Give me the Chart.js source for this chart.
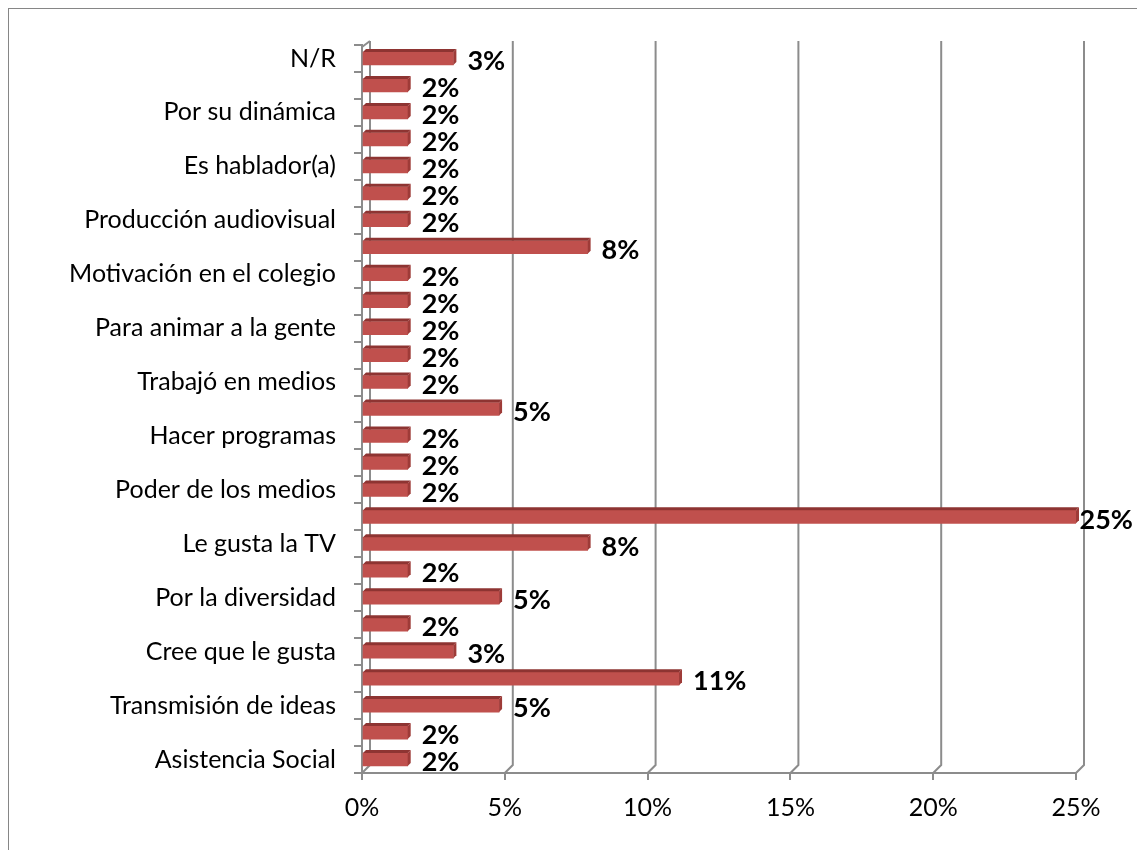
<!DOCTYPE html>
<html>
<head>
<meta charset="utf-8">
<script src="https://cdn.jsdelivr.net/npm/chart.js@4.4.1/dist/chart.umd.min.js"></script>
<style>
  html, body { margin: 0; padding: 0; background: #fff; }
  #wrap { width: 1137px; height: 850px; position: relative; }
</style>
</head>
<body>
<div id="wrap"><canvas id="chart" width="1137" height="850"></canvas></div>
<script>
// ==============================
// DATA (top to bottom)
// ==============================
const categories = [
  'N/R', '', 'Por su dinámica', '', 'Es hablador(a)', '',
  'Producción audiovisual', '', 'Motivación en el colegio', '',
  'Para animar a la gente', '', 'Trabajó en medios', '',
  'Hacer programas', '', 'Poder de los medios', '',
  'Le gusta la TV', '', 'Por la diversidad', '',
  'Cree que le gusta', '', 'Transmisión de ideas', '', 'Asistencia Social'
];
const values = [
  3.2, 1.6, 1.6, 1.6, 1.6, 1.6,
  1.6, 7.9, 1.6, 1.6,
  1.6, 1.6, 1.6, 4.8,
  1.6, 1.6, 1.6, 25,
  7.9, 1.6, 4.8, 1.6,
  3.2, 11.1, 4.8, 1.6, 1.6
];
const xTicks = [0, 5, 10, 15, 20, 25];

const FONT = 'Lato, "Open Sans", sans-serif';
const GRID = '#8c8c8c';
const DEPTH = 8;

// ==============================
// PLUGINS
// ==============================
// outer frame
const framePlugin = {
  id: 'frame',
  beforeDraw(chart) {
    const ctx = chart.ctx;
    ctx.save();
    ctx.strokeStyle = '#868686';
    ctx.lineWidth = 1;
    ctx.strokeRect(8.5, 8.5, 1300, 1000);
    ctx.restore();
  }
};

// back wall grid lines with a little 3D offset
const wallPlugin = {
  id: 'wall',
  beforeDatasetsDraw(chart) {
    const { ctx, chartArea, scales } = chart;
    const x = scales.x;
    ctx.save();
    ctx.strokeStyle = GRID;
    ctx.lineWidth = 2;
    xTicks.forEach(v => {
      const px = x.getPixelForValue(v);
      ctx.beginPath();
      ctx.moveTo(px + DEPTH, chartArea.top - 4);
      ctx.lineTo(px + DEPTH, chartArea.bottom - DEPTH);
      ctx.lineTo(px, chartArea.bottom);
      ctx.stroke();
    });
    // top corner of the left wall
    const p0 = x.getPixelForValue(0);
    ctx.beginPath();
    ctx.moveTo(p0, chartArea.top + 2);
    ctx.lineTo(p0 + DEPTH, chartArea.top - 4);
    ctx.stroke();
    ctx.restore();
  }
};

// 3D faces on the bars + value labels
const barPlugin = {
  id: 'bar3d',
  afterDatasetsDraw(chart) {
    const ctx = chart.ctx;
    const meta = chart.getDatasetMeta(0);
    ctx.save();
    meta.data.forEach((bar, i) => {
      const h = bar.height;
      const top = bar.y - h / 2;
      const bottom = bar.y + h / 2;
      const left = bar.base;
      const right = bar.x;
      const d = 3;
      // top face
      ctx.fillStyle = '#8e3432';
      ctx.beginPath();
      ctx.moveTo(left, top);
      ctx.lineTo(left + d, top - d);
      ctx.lineTo(right + d, top - d);
      ctx.lineTo(right, top);
      ctx.closePath();
      ctx.fill();
      // end face
      ctx.fillStyle = '#9e3b38';
      ctx.beginPath();
      ctx.moveTo(right, top);
      ctx.lineTo(right + d, top - d);
      ctx.lineTo(right + d, bottom - d);
      ctx.lineTo(right, bottom);
      ctx.closePath();
      ctx.fill();

      // value label (kept inside the canvas, like the 25% one)
      const txt = Math.round(values[i]) + '%';
      ctx.fillStyle = '#000';
      ctx.font = 'bold 27px ' + FONT;
      ctx.textAlign = 'left';
      ctx.textBaseline = 'middle';
      const w = ctx.measureText(txt).width;
      const lx = Math.min(right + 14, chart.width - w - 4);
      ctx.fillText(txt, lx, bar.y + 3);
    });
    ctx.restore();
  }
};

// ==============================
// CHART
// ==============================
new Chart(document.getElementById('chart'), {
  type: 'bar',
  data: {
    labels: categories,
    datasets: [{
      data: values,
      backgroundColor: '#c0504d',
      borderWidth: 0,
      barThickness: 13
    }]
  },
  options: {
    indexAxis: 'y',
    responsive: false,
    animation: false,
    layout: { padding: { left: 0, right: 61, top: 45, bottom: 0 } },
    plugins: {
      legend: { display: false },
      tooltip: { enabled: false }
    },
    scales: {
      x: {
        min: 0,
        max: 25,
        afterBuildTicks: (scale) => { scale.ticks = xTicks.map(v => ({ value: v })); },
        afterFit: (scale) => { scale.height = 77; },
        grid: { drawOnChartArea: false, color: GRID, lineWidth: 2, tickLength: 7 },
        border: { color: GRID, width: 2 },
        ticks: {
          color: '#000',
          font: { family: FONT, size: 25 },
          padding: 13,
          callback: v => v + '%'
        }
      },
      y: {
        afterFit: (scale) => { scale.width = 362; },
        grid: { drawOnChartArea: false, color: GRID, lineWidth: 2, tickLength: 8, offset: true },
        border: { color: GRID, width: 2 },
        ticks: {
          autoSkip: false,
          color: '#000',
          font: { family: FONT, size: 25 },
          padding: 18
        }
      }
    }
  },
  plugins: [framePlugin, wallPlugin, barPlugin]
});
</script>
</body>
</html>
